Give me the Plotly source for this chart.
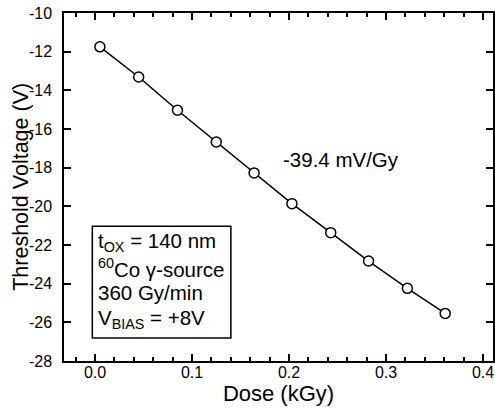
import plotly.graph_objects as go

# Data
dose_kgy = [0.005, 0.045, 0.085, 0.125, 0.164, 0.203, 0.243, 0.282, 0.322, 0.361]
vth_v = [-11.75, -13.31, -15.03, -16.67, -18.27, -19.86, -21.36, -22.83, -24.24, -25.54]

x_tick_vals = [0.0, 0.1, 0.2, 0.3, 0.4]
x_tick_text = ["0.0", "0.1", "0.2", "0.3", "0.4"]
y_tick_vals = [-28, -26, -24, -22, -20, -18, -16, -14, -12, -10]
y_tick_text = ["-28", "-26", "-24", "-22", "-20", "-18", "-16", "-14", "-12", "-10"]

x_title = "Dose (kGy)"
y_title = "Threshold Voltage (V)"
slope_label = "-39.4 mV/Gy"
info_lines = ["t<sub>OX</sub> = 140 nm", "<sup>60</sup>Co γ-source",
              "360 Gy/min", "V<sub>BIAS</sub> = +8V"]
info_line_y = [0.341, 0.266, 0.196, 0.120]   # paper coords of each line

FONT = "Liberation Sans, Arial, Helvetica, sans-serif"
x_range = [-0.032, 0.4103]
y_range = [-28, -10]

fig = go.Figure()
fig.add_trace(go.Scatter(
    x=dose_kgy, y=vth_v, mode="lines+markers",
    line=dict(color="black", width=1.5),
    marker=dict(symbol="circle", size=10, color="white",
                line=dict(color="black", width=1.5)),
    showlegend=False, hoverinfo="skip"))
# dummy trace to create mirrored (top/right) axes with inward ticks
fig.add_trace(go.Scatter(x=[None], y=[None], xaxis="x2", yaxis="y2",
                         showlegend=False, hoverinfo="skip"))

fig.add_annotation(x=0.254, y=-17.57, xref="x", yref="y", text=slope_label,
                   showarrow=False, font=dict(family=FONT, size=20.5, color="black"),
                   xanchor="center", yanchor="middle")

# y axis title as rotated annotation
fig.add_annotation(x=-0.1007, y=0.5, xref="paper", yref="paper", text=y_title,
                   textangle=-90, showarrow=False, xanchor="center", yanchor="middle",
                   font=dict(family=FONT, size=21.5, color="black"))

# info box
fig.add_shape(type="rect", xref="paper", yref="paper",
              x0=0.066, x1=0.389, y0=0.066, y1=0.387,
              line=dict(color="black", width=1.5), fillcolor="white", layer="above")
for txt, yy in zip(info_lines, info_line_y):
    fig.add_annotation(x=0.0786, y=yy, xref="paper", yref="paper", text=txt,
                       showarrow=False, xanchor="left", yanchor="middle",
                       align="left", borderpad=0, borderwidth=0,
                       font=dict(family=FONT, size=20.5, color="black"))

axis_common = dict(showline=True, linecolor="black", linewidth=1.5,
                   showgrid=False, zeroline=False, tickcolor="black",
                   tickwidth=1.5)
minor_x = dict(dtick=0.02, tick0=0, ticks="inside", ticklen=4,
               tickwidth=1.5, tickcolor="black", showgrid=False)

fig.update_layout(
    width=495, height=409,
    margin=dict(l=64, r=2, t=13, b=48, autoexpand=False),
    paper_bgcolor="white", plot_bgcolor="white",
    font=dict(family=FONT, color="black"),
    xaxis=dict(range=x_range, tickmode="array", tickvals=x_tick_vals,
               ticktext=x_tick_text, ticks="inside", ticklen=7, minor=minor_x,
               tickfont=dict(size=16), ticklabelstandoff=-4,
               title=dict(text=x_title, font=dict(size=22), standoff=2),
               automargin=False, **axis_common),
    xaxis2=dict(range=x_range, overlaying="x", side="top", anchor="y2",
                tickmode="array", tickvals=x_tick_vals, showticklabels=False,
                ticks="inside", ticklen=7, minor=minor_x,
                automargin=False, **axis_common),
    yaxis=dict(range=y_range, tickmode="array", tickvals=y_tick_vals,
               ticktext=y_tick_text, ticks="inside", ticklen=7,
               tickfont=dict(size=16), ticklabelstandoff=7,
               automargin=False, **axis_common),
    yaxis2=dict(range=y_range, overlaying="y", side="right", anchor="x2",
                tickmode="array", tickvals=y_tick_vals, showticklabels=False,
                ticks="inside", ticklen=7, automargin=False, **axis_common),
)

fig.write_html("out.html")
